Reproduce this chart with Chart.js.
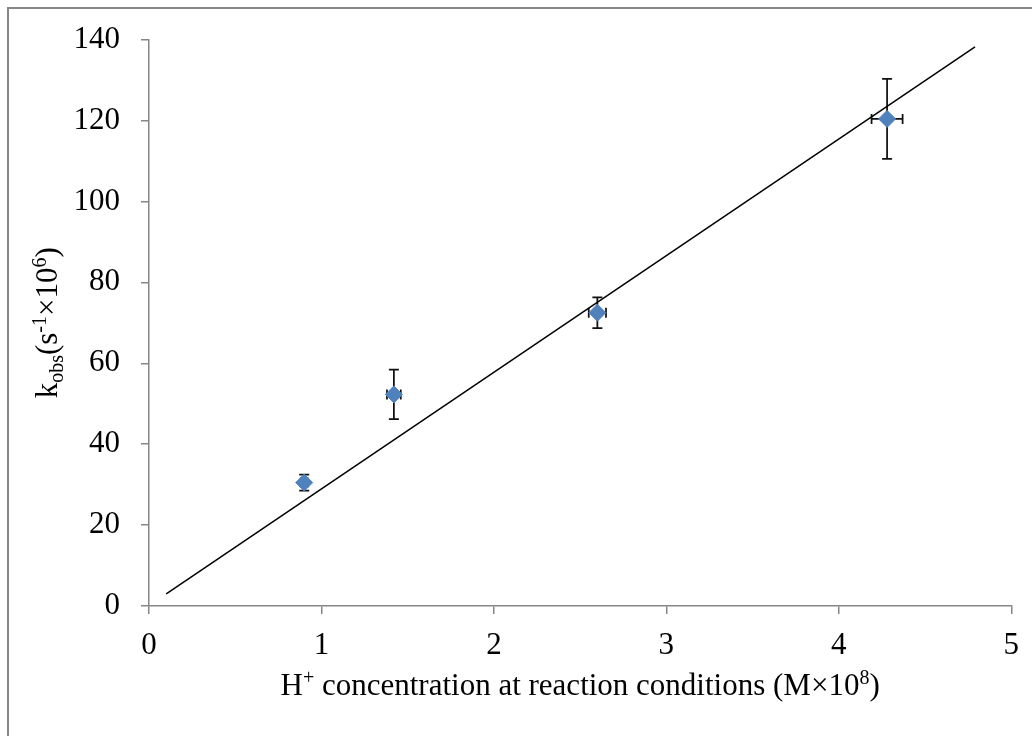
<!DOCTYPE html>
<html>
<head>
<meta charset="utf-8">
<script src="https://cdn.jsdelivr.net/npm/chart.js@4.4.0/dist/chart.umd.min.js"></script>
<style>
  html, body { margin: 0; padding: 0; background: #ffffff; }
  #wrap { position: relative; width: 1032px; height: 736px; }
  canvas { display: block; }
</style>
</head>
<body>
<div id="wrap"><canvas id="chart" width="1032" height="736"></canvas></div>
<script>
// Measured H+ concentration (M×10^8) and observed rate constants (s^-1×10^6)
const hConc = [0.90, 1.42, 2.60, 4.28];
const kObs  = [30.5, 52.3, 72.5, 120.4];
// Uncertainties
const kErr  = [2.0, 6.1, 3.8, 9.9];
const hErr  = [0.02, 0.04, 0.05, 0.09];
// Linear fit through the origin, drawn between these end points
const fitX  = [0.10, 4.79];
const fitY  = [3.0, 138.2];
// Axis ticks
const xTicks = [0, 1, 2, 3, 4, 5];
const yTicks = [0, 20, 40, 60, 80, 100, 120, 140];

const FONT = "'Liberation Serif', 'Times New Roman', serif";
const FONT_SIZE = 31;
const SMALL = 20;
const AXIS_GREY = '#868686';

const points = hConc.map((x, i) => ({ x: x, y: kObs[i] }));
const fitLine = fitX.map((x, i) => ({ x: x, y: fitY[i] }));

// Error bars drawn under the markers
const errorBars = {
  id: 'errorBars',
  beforeDatasetsDraw(chart) {
    const { ctx, scales: { x, y } } = chart;
    ctx.save();
    ctx.strokeStyle = '#111111';
    ctx.lineWidth = 1.75;
    hConc.forEach((hv, i) => {
      const px = x.getPixelForValue(hv);
      const py = y.getPixelForValue(kObs[i]);
      const yTop = y.getPixelForValue(kObs[i] + kErr[i]);
      const yBot = y.getPixelForValue(kObs[i] - kErr[i]);
      const xL = x.getPixelForValue(hv - hErr[i]);
      const xR = x.getPixelForValue(hv + hErr[i]);
      ctx.beginPath();
      ctx.moveTo(px, yTop); ctx.lineTo(px, yBot);
      ctx.moveTo(px - 5, yTop); ctx.lineTo(px + 5, yTop);
      ctx.moveTo(px - 5, yBot); ctx.lineTo(px + 5, yBot);
      ctx.moveTo(xL, py); ctx.lineTo(xR, py);
      ctx.moveTo(xL, py - 5); ctx.lineTo(xL, py + 5);
      ctx.moveTo(xR, py - 5); ctx.lineTo(xR, py + 5);
      ctx.stroke();
    });
    ctx.restore();
  }
};

// Draws a run of text pieces, some raised or lowered, starting at (x, y)
function drawRich(ctx, parts, x, y) {
  let cx = x;
  parts.forEach(p => {
    ctx.font = `${p.size}px ${FONT}`;
    ctx.fillText(p.t, cx, y + (p.dy || 0));
    cx += ctx.measureText(p.t).width;
  });
}
function richWidth(ctx, parts) {
  let w = 0;
  parts.forEach(p => {
    ctx.font = `${p.size}px ${FONT}`;
    w += ctx.measureText(p.t).width;
  });
  return w;
}

const xTitle = [
  { t: 'H', size: FONT_SIZE },
  { t: '+', size: SMALL, dy: -11 },
  { t: ' concentration at reaction conditions (M×10', size: FONT_SIZE },
  { t: '8', size: SMALL, dy: -11 },
  { t: ')', size: FONT_SIZE }
];
const yTitle = [
  { t: 'k', size: FONT_SIZE },
  { t: 'obs', size: SMALL, dy: 6 },
  { t: '(s', size: FONT_SIZE },
  { t: '-1', size: SMALL, dy: -11 },
  { t: '×10', size: FONT_SIZE },
  { t: '6', size: SMALL, dy: -11 },
  { t: ')', size: FONT_SIZE }
];

const titlesAndFrame = {
  id: 'titlesAndFrame',
  afterDraw(chart) {
    const { ctx, chartArea } = chart;
    ctx.save();
    // frame edges
    ctx.strokeStyle = AXIS_GREY;
    ctx.lineWidth = 2;
    ctx.beginPath();
    ctx.moveTo(8, 736); ctx.lineTo(8, 8); ctx.lineTo(1032, 8);
    ctx.stroke();

    ctx.fillStyle = '#000000';
    ctx.textBaseline = 'alphabetic';
    ctx.textAlign = 'left';
    const cxMid = (chartArea.left + chartArea.right) / 2;
    const wX = richWidth(ctx, xTitle);
    drawRich(ctx, xTitle, cxMid - wX / 2, 695);

    const cyMid = (chartArea.top + chartArea.bottom) / 2;
    const wY = richWidth(ctx, yTitle);
    ctx.translate(57, cyMid);
    ctx.rotate(-Math.PI / 2);
    drawRich(ctx, yTitle, -wY / 2, 0);
    ctx.restore();
  }
};

new Chart(document.getElementById('chart'), {
  type: 'scatter',
  data: {
    datasets: [
      {
        label: 'kobs',
        data: points,
        pointStyle: 'rectRot',
        pointRadius: 8.5,
        pointBackgroundColor: '#4F81BD',
        pointBorderColor: '#4F81BD',
        pointBorderWidth: 1,
        showLine: false,
        order: 0
      },
      {
        label: 'fit',
        data: fitLine,
        showLine: true,
        borderColor: '#000000',
        borderWidth: 1.5,
        pointRadius: 0,
        fill: false,
        order: 1
      }
    ]
  },
  options: {
    responsive: false,
    animation: false,
    devicePixelRatio: 1,
    layout: { padding: { top: 38, right: 18, left: 0, bottom: 0 } },
    plugins: { legend: { display: false }, tooltip: { enabled: false } },
    scales: {
      x: {
        type: 'linear',
        min: xTicks[0],
        max: xTicks[xTicks.length - 1],
        afterBuildTicks(scale) { scale.ticks = xTicks.map(v => ({ value: v })); },
        afterFit(scale) { scale.height = 130; },
        ticks: { color: '#000000', font: { family: FONT, size: FONT_SIZE }, padding: 13, maxRotation: 0 },
        grid: { drawOnChartArea: false, drawTicks: true, tickLength: 8, color: AXIS_GREY, lineWidth: 1.5 },
        border: { color: AXIS_GREY, width: 1.5 }
      },
      y: {
        type: 'linear',
        min: yTicks[0],
        max: yTicks[yTicks.length - 1],
        afterBuildTicks(scale) { scale.ticks = yTicks.map(v => ({ value: v })); },
        afterFit(scale) { scale.width = 149; },
        ticks: { color: '#000000', font: { family: FONT, size: FONT_SIZE }, padding: 21 },
        grid: { drawOnChartArea: false, drawTicks: true, tickLength: 8, color: AXIS_GREY, lineWidth: 1.5 },
        border: { color: AXIS_GREY, width: 1.5 }
      }
    }
  },
  plugins: [errorBars, titlesAndFrame]
});
</script>
</body>
</html>
